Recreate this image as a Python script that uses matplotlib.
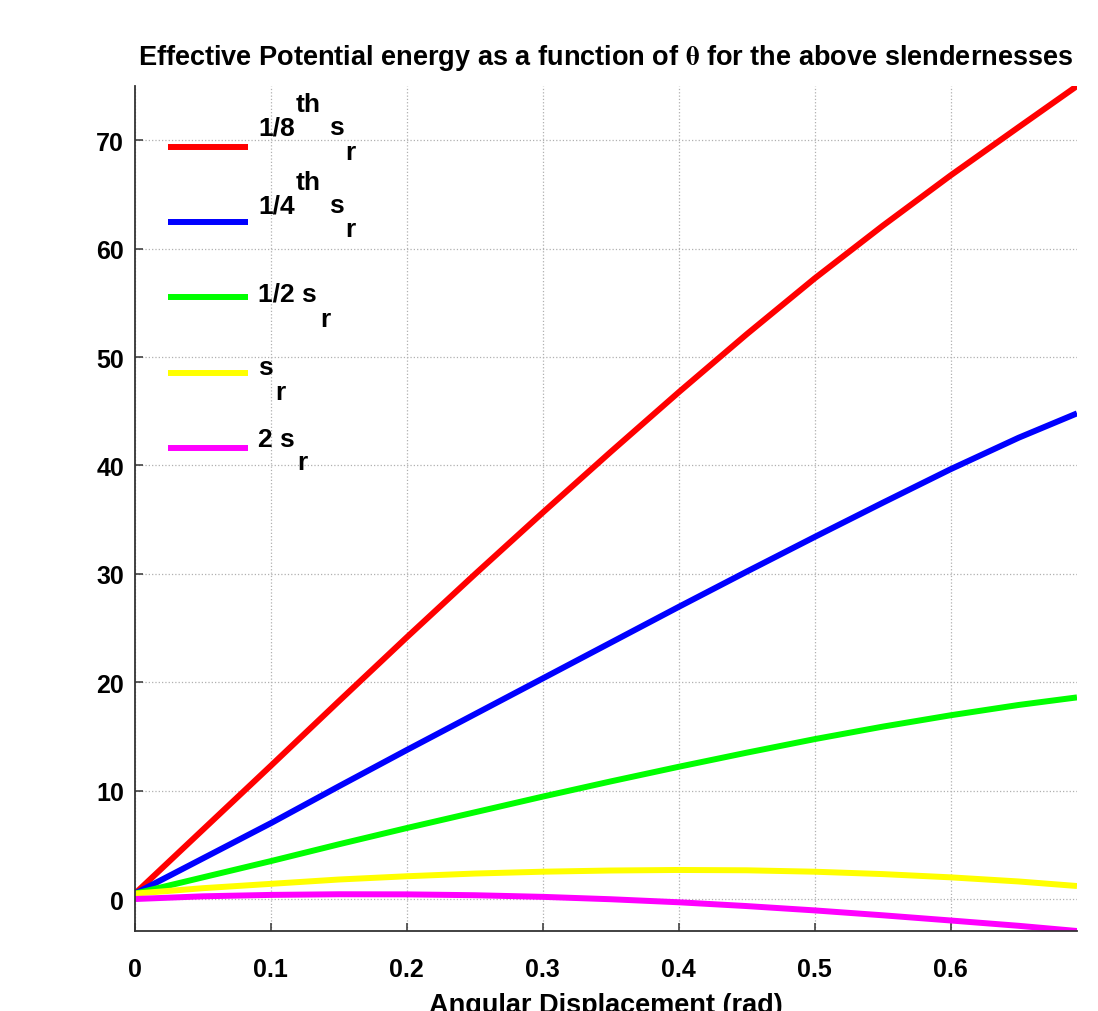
import matplotlib
matplotlib.use("Agg")
import matplotlib.pyplot as plt

plt.rcParams['font.family'] = ['Liberation Sans', 'DejaVu Sans']
plt.rcParams['font.weight'] = 'bold'
plt.rcParams['mathtext.fontset'] = 'stix'

# angular displacement (rad) and effective potential energy for each slenderness
theta = [0.0, 0.05, 0.1, 0.15, 0.2, 0.25, 0.3, 0.35, 0.4, 0.45, 0.5, 0.55, 0.6, 0.65, 0.693]
v_eighth = [0.5, 6.4, 12.3, 18.25, 24.15, 29.95, 35.65, 41.25, 46.75, 52.1, 57.25, 62.1, 66.75, 71.2, 75.0]
v_quarter = [0.5, 3.75, 7.0, 10.4, 13.75, 17.05, 20.35, 23.65, 26.95, 30.2, 33.4, 36.55, 39.65, 42.55, 44.8]
v_half = [0.5, 2.0, 3.5, 5.05, 6.55, 8.0, 9.45, 10.85, 12.2, 13.5, 14.75, 15.9, 16.95, 17.9, 18.6]
v_one = [0.5, 1.0, 1.4, 1.8, 2.1, 2.35, 2.52, 2.63, 2.68, 2.65, 2.52, 2.3, 2.0, 1.62, 1.2]
v_two = [0.0, 0.25, 0.38, 0.44, 0.43, 0.35, 0.2, -0.02, -0.3, -0.65, -1.05, -1.5, -1.98, -2.47, -2.95]

series = [v_eighth, v_quarter, v_half, v_one, v_two]
colors = ['#ff0000', '#0000ff', '#00ff00', '#ffff00', '#ff00ff']

x_ticks = [0, 0.1, 0.2, 0.3, 0.4, 0.5, 0.6]
x_ticklabels = ['0', '0.1', '0.2', '0.3', '0.4', '0.5', '0.6']
y_ticks = [0, 10, 20, 30, 40, 50, 60, 70]

W, H = 1098, 1012
fig = plt.figure(figsize=(W / 100, H / 100), dpi=100)
ax = fig.add_axes([135 / W, 1 - 932 / H, 942 / W, 845 / H])

lines = []
for vals, c in zip(series, colors):
    ln, = ax.plot(theta, vals, color=c, linewidth=4.3, solid_capstyle='butt')
    lines.append(ln)

ax.set_xlim(0, 0.693)
ax.set_ylim(-2.95, 75.0)
ax.set_xticks(x_ticks)
ax.set_xticklabels(x_ticklabels)
ax.set_yticks(y_ticks)

ax.spines['top'].set_visible(False)
ax.spines['right'].set_visible(False)
for s in ['left', 'bottom']:
    ax.spines[s].set_color('#333333')
    ax.spines[s].set_linewidth(1.3)

ax.tick_params(direction='in', length=6, width=1.1, color='#333333', labelsize=18)
ax.tick_params(axis='x', pad=19)
ax.tick_params(axis='y', pad=8)
ax.grid(True, linestyle=':', color='#b0b0b0', linewidth=0.9)

ax.set_title(r'Effective Potential energy as a function of $\mathrm{\theta}$ for the above slendernesses',
             fontsize=19.5, fontweight='bold', pad=16)
ax.set_xlabel('Angular Displacement (rad)', fontsize=19.5, fontweight='bold', labelpad=8)

# legend keys, text pieces placed separately to mimic the raised/lowered labels
leg = ax.legend(lines, [' '] * 5, loc='upper left', bbox_to_anchor=(0.035, 0.940),
                frameon=False, fontsize=18, handlelength=3.2, labelspacing=2.05,
                borderpad=0, borderaxespad=0)

def px(x, y):
    return x / W, 1 - y / H

legend_text = [
    ('1/8', 258, 135), ('th', 296, 112), ('s', 329, 135), ('r', 345, 160),
    ('1/4', 258, 213), ('th', 296, 190), ('s', 329, 213), ('r', 345, 237),
    ('1/2 s', 258, 302), ('r', 320, 327),
    ('s', 258, 375), ('r', 275, 400),
    ('2 s', 258, 447), ('r', 297, 470),
]
for txt, x, y in legend_text:
    fx, fy = px(x, y)
    fig.text(fx, fy, txt, fontsize=19, fontweight='bold', va='baseline', ha='left')

fig.savefig('out.png', dpi=100)
